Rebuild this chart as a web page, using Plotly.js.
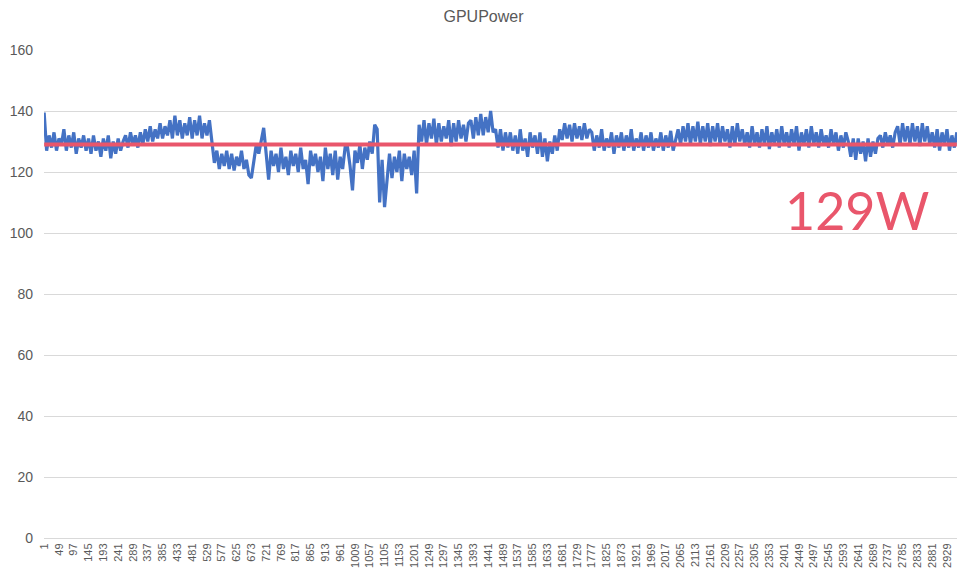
<!DOCTYPE html>
<html>
<head>
<meta charset="utf-8">
<script src="https://cdn.plot.ly/plotly-3.0.1.min.js"></script>
<style>
  html, body { margin: 0; padding: 0; background: #fff; }
  #myDiv { width: 967px; height: 576px; }
</style>
</head>
<body>
<div id="myDiv"></div>
<script>
// GPU power readings, one kept value every 8 samples
let step = 8;
let power_start = [139.5, 127,
    132, 128, 133, 127, 131, 129, 134, 127, 132, 128, 133, 126, 131, 128, 132, 127,
    131, 126, 132, 127, 130, 125, 131, 127, 132, 124.5, 130, 126, 131, 127, 130,
    132, 128, 133, 129, 132, 128,
    133, 129, 134, 130, 135, 130, 134, 131, 136, 131, 135, 132, 137, 131, 138.5, 132, 137, 131, 136, 132, 138, 131,
    137, 132, 138.5, 131, 136, 132, 137, 130];
let power_dip = [123,
    127, 121, 126, 122, 127, 121, 126, 120.5, 125, 122, 127, 121, 124, 119, 118,
    124, 129, 126, 131,
    134.5, 126,
    117.5, 127, 122, 126, 120, 128, 121, 125, 119, 127, 122, 126, 120, 128, 121, 124,
    116, 127, 122, 126, 120, 125, 117, 128, 121, 126, 119, 127, 117.5, 125, 121, 128,
    128, 122, 114, 127, 123, 129, 121, 128, 124, 130, 126,
    135.5, 134,
    110, 124, 108.5, 118,
    126, 118, 125, 120, 127, 117, 126, 121, 125, 119, 127, 113];
let power_mid = [135.5, 130, 137, 129, 136, 131, 137.5, 129, 136, 130, 135, 131, 137, 128.5, 136, 130, 137, 131, 135.5, 130, 136,
    137, 131, 138, 132, 139, 132, 138, 133, 140, 133,
    134, 128, 134, 127, 133, 128,
    133, 127, 132, 126, 134, 127, 131, 125, 133, 128, 132, 126, 133, 125, 131, 123.5, 130, 126, 132, 127,
    134, 130.5, 136, 131, 135.5, 130, 136, 131, 135, 130.5, 136, 131, 134,
    133, 127, 132, 128, 134, 127, 131, 128, 133, 126, 132, 128, 133, 127, 132, 128, 134, 127, 131, 128, 133, 127];
let power_end = [132, 128, 133, 127, 131, 128, 133, 127, 132, 128, 133.5, 127, 131,
    134, 129, 135, 130, 136, 129, 135, 130, 136.5, 129, 135, 130, 136, 128.5, 135, 130, 136, 129, 135, 130, 134, 128, 135, 129, 136, 130,
    134, 129, 133, 128, 135, 129, 133, 128, 134, 129, 135, 127.5, 133, 129, 134, 128, 135, 129, 133, 128, 134, 129, 135, 127,
    133, 129, 134, 128, 135, 129, 133, 128, 134, 129, 132, 128, 134, 129, 133, 127, 132, 128, 133,
    130, 125, 131, 124, 131, 126, 130, 123.5, 131, 125, 130, 126, 131,
    132, 128, 133, 129, 132, 128, 133,
    135, 129, 136, 130, 135, 129, 136, 130, 135, 128.5, 136, 130, 135, 129,
    133, 128, 134, 127, 133, 129, 134, 127, 132, 128, 133];

let avgPower = 129;
let avgLabel = '129W';
let tickStart = 1, tickStep = 48, tickEnd = 2929;

let power = power_start.concat(power_dip, power_mid, power_end);
let sample_idx = power.map((v, i) => 1 + i * step);
let lastIdx = sample_idx[sample_idx.length - 1];

let tick_vals = [];
for (let t = tickStart; t <= tickEnd; t += tickStep) {
    tick_vals.push(t);
}
let tick_text = tick_vals.map(t => String(t));

let gpu = {
    x: sample_idx,
    y: power,
    mode: 'lines',
    name: 'GPUPower',
    line: { color: '#4472C4', width: 3.2 }
};

let avg = {
    x: [sample_idx[0], lastIdx],
    y: [avgPower, avgPower],
    mode: 'lines',
    name: 'avg',
    line: { color: '#E9566B', width: 4 }
};

let layout = {
    width: 967,
    height: 576,
    paper_bgcolor: '#ffffff',
    plot_bgcolor: '#ffffff',
    showlegend: false,
    margin: { l: 44, r: 10, t: 50, b: 38 },
    font: { family: 'Liberation Sans Narrow, Liberation Sans, sans-serif', color: '#595959' },
    title: {
        text: 'GPUPower',
        font: { size: 16, color: '#595959', family: 'Liberation Sans Narrow, Liberation Sans, sans-serif' },
        x: 0.5,
        xanchor: 'center',
        y: 0.972,
        yanchor: 'middle'
    },
    xaxis: {
        range: [0.5, lastIdx + 0.5],
        tickmode: 'array',
        tickvals: tick_vals,
        ticktext: tick_text,
        tickangle: -90,
        tickfont: { size: 11, color: '#595959' },
        ticks: '',
        showgrid: false,
        zeroline: false,
        showline: true,
        linecolor: '#D9D9D9',
        linewidth: 1
    },
    yaxis: {
        range: [0, 160],
        dtick: 20,
        tickfont: { size: 14, color: '#595959' },
        gridcolor: '#D9D9D9',
        gridwidth: 1,
        zeroline: false,
        showline: false,
        ticks: '',
        ticklabelstandoff: 10
    },
    annotations: [{
        x: 2638,
        y: 107.5,
        xref: 'x',
        yref: 'y',
        text: avgLabel,
        showarrow: false,
        font: { family: 'Lato, Open Sans, sans-serif', size: 52, color: '#E9566B' },
        xanchor: 'center',
        yanchor: 'middle'
    }]
};

Plotly.newPlot('myDiv', [gpu, avg], layout, { staticPlot: true });
</script>
</body>
</html>
